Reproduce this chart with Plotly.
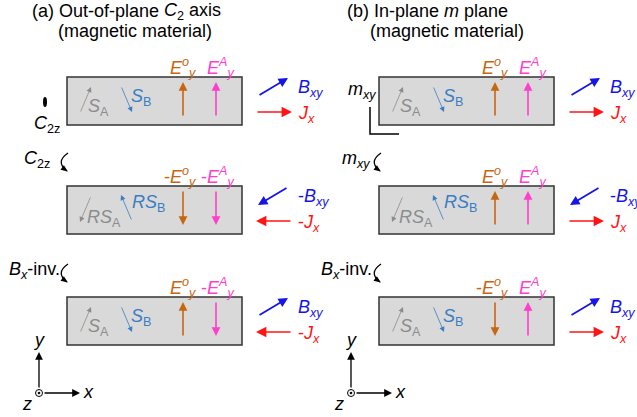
import math
import plotly.graph_objects as go

# ---------------- data ----------------
panel_title_heads = ["(a) Out-of-plane", "(b) In-plane <i>m</i> plane"]
panel_title_tails = ["<i>C</i><sub>2</sub> axis", ""]
panel_subtitle = "(magnetic material)"
first_op_labels = ["<i>C</i><sub>2z</sub>", "<i>m</i><sub><i>xy</i></sub>"]
op_labels_a = ["<i>C</i><sub>2z</sub>", "<i>B</i><sub><i>x</i></sub>-inv."]
op_labels_b = ["<i>m</i><sub><i>xy</i></sub>", "<i>B</i><sub><i>x</i></sub>-inv."]

# +1 = same direction as in the first row, -1 = reversed
spin_rot_a = [0, 1, 0]
Eo_sign_a = [1, -1, 1]
EA_sign_a = [1, -1, -1]
B_sign_a = [1, -1, 1]
J_sign_a = [1, -1, -1]

spin_rot_b = [0, 1, 0]
Eo_sign_b = [1, 1, -1]
EA_sign_b = [1, 1, 1]
B_sign_b = [1, -1, 1]
J_sign_b = [1, 1, 1]

# ---------------- styles ----------------
FONT = "Arial, Liberation Sans, sans-serif"
C_EO = "#c8650f"
C_EA = "#ff3ecb"
C_B = "#1515e8"
C_J = "#ff1414"
C_SA = "#8c8c8c"
C_SB = "#3a7dc4"
LBL = 18

# layout constants
panel_dx = [0, 312]
row_top = [77, 186, 297]
op_label_right = [[51, 61], [371, 373]]
curve_dx = [0, 313]
title_left = [31, 346]
title_tail_right = [222, 0]

shapes = []
ann = []


def arrow(x0, y0, x1, y1, color, width, size):
    ann.append(dict(x=x1, y=y1, ax=x0, ay=y0, xref="x", yref="y", axref="x", ayref="y",
                    text="", showarrow=True, arrowhead=2, arrowsize=size, arrowwidth=width,
                    arrowcolor=color, standoff=0, startstandoff=0))


def text(x, y, s, color="black", size=LBL, xanchor="center", yanchor="middle"):
    ann.append(dict(x=x, y=y, xref="x", yref="y", text=s, showarrow=False,
                    xanchor=xanchor, yanchor=yanchor, borderpad=0,
                    align=xanchor if xanchor != "center" else "center",
                    font=dict(family=FONT, size=size, color=color)))


def curved_arrow(cx, yt):
    x_top, y_top = cx + 68, yt - 33
    x_ctl, y_ctl = cx + 55, yt - 24
    x_end, y_end = cx + 67, yt - 15
    shapes.append(dict(type="path", xref="x", yref="y",
                       path=f"M {x_top},{y_top} Q {x_ctl},{y_ctl} {x_end},{y_end}",
                       line=dict(color="black", width=1.3)))
    dx, dy = x_end - x_ctl, y_end - y_ctl
    n = math.hypot(dx, dy)
    ux, uy = dx / n, dy / n
    L, W = 6.0, 2.8
    bx, by = x_end - ux * L, y_end - uy * L
    shapes.append(dict(type="path", xref="x", yref="y",
                       path=(f"M {x_end + ux},{y_end + uy} L {bx - uy * W},{by + ux * W} "
                             f"L {bx + uy * W},{by - ux * W} Z"),
                       fillcolor="black", line=dict(color="black", width=0)))


def signed(label, s):
    return label if s > 0 else "-" + label


panels = [
    (spin_rot_a, Eo_sign_a, EA_sign_a, B_sign_a, J_sign_a, op_labels_a),
    (spin_rot_b, Eo_sign_b, EA_sign_b, B_sign_b, J_sign_b, op_labels_b),
]

for p, (rot, eo, ea, bs, js, ops) in enumerate(panels):
    px = panel_dx[p]
    # titles
    text(title_left[p], 11, panel_title_heads[p], size=18, xanchor="left")
    if panel_title_tails[p]:
        text(title_tail_right[p], 11, panel_title_tails[p], size=18, xanchor="right")
    text(px + 57, 31, panel_subtitle, size=18, xanchor="left")
    for r, yt in enumerate(row_top):
        # box
        shapes.append(dict(type="rect", xref="x", yref="y", x0=px + 67, x1=px + 242,
                           y0=yt, y1=yt + 48, fillcolor="#d9d9d9",
                           line=dict(color="#333333", width=1.5), layer="below"))
        # spins
        if rot[r]:
            arrow(px + 91, yt + 10, px + 80, yt + 36, C_SA, 0.8, 1.3)
            arrow(px + 132, yt + 35, px + 121, yt + 9, C_SB, 0.8, 1.3)
            text(px + 86, yt + 32, "<i>RS</i><sub>A</sub>", C_SA, xanchor="left")
            text(px + 131, yt + 17, "<i>RS</i><sub>B</sub>", C_SB, xanchor="left")
        else:
            arrow(px + 80, yt + 36, px + 91, yt + 10, C_SA, 0.8, 1.3)
            arrow(px + 121, yt + 9, px + 132, yt + 35, C_SB, 0.8, 1.3)
            text(px + 87, yt + 30, "<i>S</i><sub>A</sub>", C_SA, xanchor="left")
            text(px + 130, yt + 20, "<i>S</i><sub>B</sub>", C_SB, xanchor="left")
        # E fields
        for xe, sgn, col, lab in [(183, eo[r], C_EO, "<i>E</i><sup><i>o</i></sup><sub><i>y</i></sub>"),
                                  (216, ea[r], C_EA, "<i>E</i><sup><i>A</i></sup><sub><i>y</i></sub>")]:
            if sgn > 0:
                arrow(px + xe, yt + 40, px + xe, yt + 5, col, 1.6, 1.1)
            else:
                arrow(px + xe, yt + 4, px + xe, yt + 39, col, 1.6, 1.1)
            text(px + xe + (14 if xe == 183 else 19), yt - 10, signed(lab, sgn), col, xanchor="right")
        # B field
        if bs[r] > 0:
            arrow(px + 258, yt + 19, px + 288, yt + 1, C_B, 1.8, 1.05)
        else:
            arrow(px + 288, yt + 1, px + 258, yt + 19, C_B, 1.8, 1.05)
        text(px + 297, yt + 11, signed("<i>B</i><sub><i>xy</i></sub>", bs[r]), C_B, xanchor="left")
        # current
        if js[r] > 0:
            arrow(px + 256, yt + 35, px + 292, yt + 35, C_J, 1.6, 1.3)
        else:
            arrow(px + 292, yt + 35, px + 256, yt + 35, C_J, 1.6, 1.3)
        text(px + 297, yt + 37, signed("<i>J</i><sub><i>x</i></sub>", js[r]), C_J, xanchor="left")
        # operations between rows
        if r > 0:
            curved_arrow(curve_dx[p], yt)
            text(op_label_right[p][r - 1], yt - 27, ops[r - 1], xanchor="right")

    # coordinate axes symbol
    ox, oy = px + 39, 393
    arrow(ox, oy - 4, ox, 352, "black", 1.3, 1.2)
    arrow(ox + 4, oy, ox + 41, oy, "black", 1.3, 1.2)
    shapes.append(dict(type="circle", xref="x", yref="y", x0=ox - 3.5, x1=ox + 3.5,
                       y0=oy - 3.5, y1=oy + 3.5, line=dict(color="black", width=1),
                       fillcolor="white"))
    shapes.append(dict(type="circle", xref="x", yref="y", x0=ox - 1.3, x1=ox + 1.3,
                       y0=oy - 1.3, y1=oy + 1.3, line=dict(color="black", width=0),
                       fillcolor="black"))
    text(ox, 340, "<i>y</i>")
    text(ox + 49, 392, "<i>x</i>")
    text(ox - 12, 404, "<i>z</i>")

# first-row symmetry elements
shapes.append(dict(type="circle", xref="x", yref="y", x0=43, x1=47, y0=97, y1=107,
                   fillcolor="black", line=dict(color="black", width=0)))
text(47, 124, first_op_labels[0])
text(362, 90, first_op_labels[1])
shapes.append(dict(type="path", xref="x", yref="y", path="M 370,107 L 370,134 L 399,134",
                   line=dict(color="black", width=1.5)))

fig = go.Figure()
fig.update_layout(
    width=637, height=417,
    margin=dict(l=0, r=0, t=0, b=0),
    paper_bgcolor="white", plot_bgcolor="white",
    xaxis=dict(range=[0, 637], visible=False, fixedrange=True),
    yaxis=dict(range=[417, 0], visible=False, fixedrange=True),
    shapes=shapes, annotations=ann, showlegend=False,
)
fig.write_html("out.html", config={"displayModeBar": False},
               post_script="document.body.style.margin='0px';document.body.style.overflow='hidden';")
